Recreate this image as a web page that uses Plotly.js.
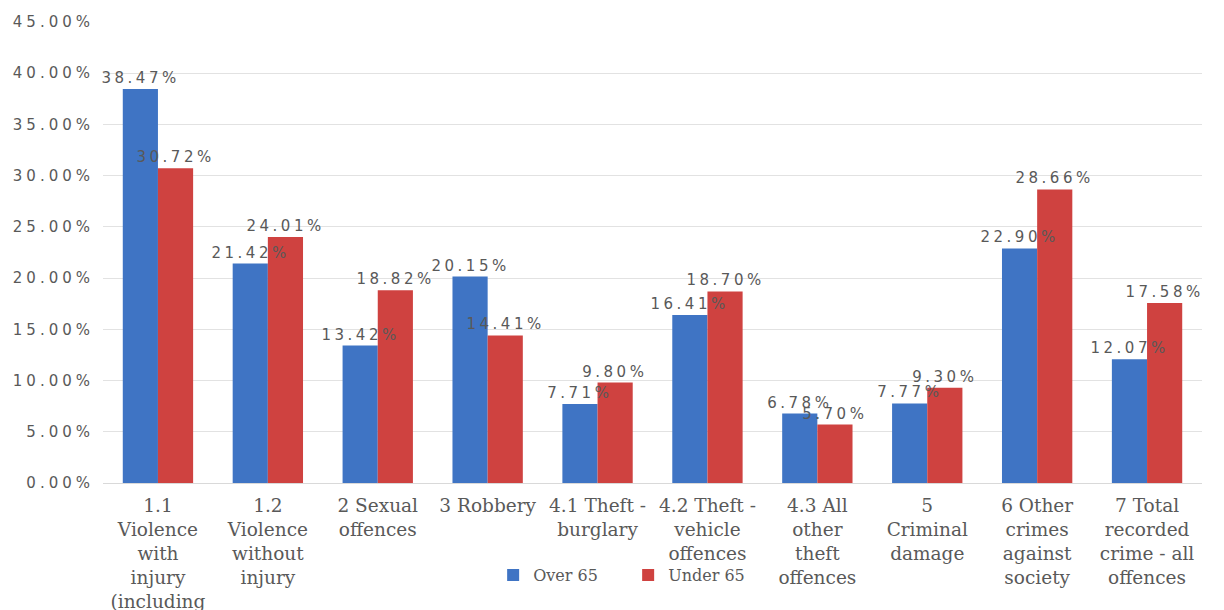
<!DOCTYPE html>
<html>
<head>
<meta charset="utf-8">
<script src="https://cdn.plot.ly/plotly-3.0.1.min.js"></script>
<style>
  html, body { margin: 0; padding: 0; background: #ffffff; }
  #chart { width: 1224px; height: 610px; }
  /* wide, airy number labels */
  #chart .ytick text { letter-spacing: 4px; }
  #chart .annotation-text { letter-spacing: 3.5px; }
</style>
</head>
<body>
<div id="chart"></div>
<script>
// Offence categories (wrapped for the axis)
const categories = [
  "1.1<br>Violence<br>with<br>injury<br>(including",
  "1.2<br>Violence<br>without<br>injury",
  "2 Sexual<br>offences",
  "3 Robbery",
  "4.1 Theft -<br>burglary",
  "4.2 Theft -<br>vehicle<br>offences",
  "4.3 All<br>other<br>theft<br>offences",
  "5<br>Criminal<br>damage",
  "6 Other<br>crimes<br>against<br>society",
  "7 Total<br>recorded<br>crime - all<br>offences"
];

// Share of offences, percent
const over65 = [38.47, 21.42, 13.42, 20.15, 7.71, 16.41, 6.78, 7.77, 22.90, 12.07];
const under65 = [30.72, 24.01, 18.82, 14.41, 9.80, 18.70, 5.70, 9.30, 28.66, 17.58];

const seriesNames = ["Over 65", "Under 65"];
const seriesColors = ["#3f74c4", "#cf4240"];
const yTicks = [0, 5, 10, 15, 20, 25, 30, 35, 40, 45];

function pct(v) { return v.toFixed(2) + "%"; }

// Plot geometry
const W = 1224, H = 610;
const margin = { l: 103, r: 22, t: 22, b: 127 };
const bargap = 0.36;
const plotW = W - margin.l - margin.r;
const barPx = plotW / categories.length * (1 - bargap) / 2;

const traces = [over65, under65].map((vals, i) => ({
  type: "bar", name: seriesNames[i], x: categories, y: vals,
  marker: { color: seriesColors[i] }, hoverinfo: "skip"
}));

// Value labels sit on top of every bar layer
const labelFont = { family: "DejaVu Sans", size: 15, color: "#595959" };
const annotations = [];
[over65, under65].forEach((vals, i) => {
  vals.forEach((v, j) => {
    annotations.push({
      x: categories[j], y: v, xref: "x", yref: "y",
      text: pct(v), showarrow: false, font: labelFont,
      xanchor: "center", yanchor: "bottom",
      xshift: (i === 0 ? -1 : 1) * barPx / 2, yshift: 0
    });
  });
});

const layout = {
  width: W, height: H, margin: margin,
  paper_bgcolor: "#ffffff", plot_bgcolor: "#ffffff",
  barmode: "group", bargap: bargap, bargroupgap: 0,
  showlegend: true,
  legend: {
    orientation: "h", x: 0.355, y: -0.2, xanchor: "left", yanchor: "middle",
    font: { family: "DejaVu Serif", size: 16, color: "#595959" },
    bgcolor: "rgba(0,0,0,0)", entrywidth: 90, entrywidthmode: "pixels",
    tracegroupgap: 0
  },
  font: { family: "DejaVu Serif", color: "#595959" },
  annotations: annotations,
  xaxis: {
    type: "category", showgrid: false, zeroline: false,
    showline: true, linecolor: "#d9d9d9", linewidth: 1,
    ticks: "", tickangle: 0, automargin: false, ticklabelstandoff: 6,
    tickfont: { family: "DejaVu Serif", size: 18.5, color: "#595959" }
  },
  yaxis: {
    range: [0, 45], tickvals: yTicks, ticktext: yTicks.map(pct),
    showgrid: true, gridcolor: "#e2e2e2", gridwidth: 1,
    zeroline: false, showline: false, ticks: "",
    ticklabelstandoff: 8, automargin: false,
    tickfont: { family: "DejaVu Sans", size: 15, color: "#595959" }
  }
};

Plotly.newPlot("chart", traces, layout, { staticPlot: true, displayModeBar: false });
</script>
</body>
</html>
